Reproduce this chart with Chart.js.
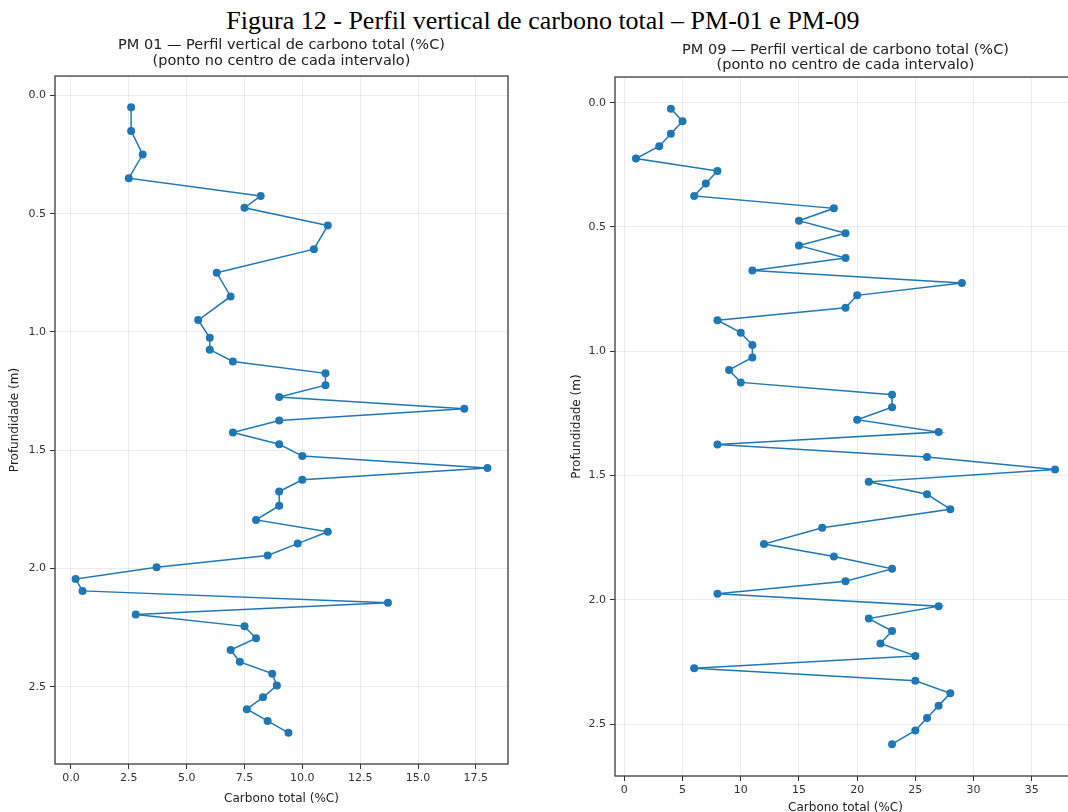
<!DOCTYPE html>
<html lang="pt-BR">
<head>
<meta charset="utf-8">
<script src="https://cdn.jsdelivr.net/npm/chart.js@4.4.1/dist/chart.umd.min.js"></script>
<style>
  html, body { margin: 0; padding: 0; background: #fff; overflow: hidden; }
  body { width: 1068px; height: 812px; position: relative; }
  #figTitle {
    position: absolute; left: 9px; top: 8px; width: 1068px;
    text-align: center; color: #000;
    font-family: "Liberation Serif", "Times New Roman", serif;
    font-size: 26px; line-height: 26px;
  }
  .box { position: absolute; }
  #box01 { left: 0; top: 0; width: 512px; height: 812px; }
  #box09 { left: 560px; top: 0; width: 520px; height: 830px; }
</style>
</head>
<body>
<div id="figTitle">Figura 12 - Perfil vertical de carbono total – PM-01 e PM-09</div>
<div class="box" id="box01"><canvas id="pm01"></canvas></div>
<div class="box" id="box09"><canvas id="pm09"></canvas></div>
<script>
// PM-01: profundidade (m, centro do intervalo) e carbono total (%C)
const prof01 = [0.05, 0.15, 0.25, 0.35, 0.425, 0.475, 0.55, 0.65, 0.75, 0.85,
  0.95, 1.025, 1.075, 1.125, 1.175, 1.225, 1.275, 1.325, 1.375, 1.425,
  1.475, 1.525, 1.575, 1.625, 1.675, 1.735, 1.795, 1.845, 1.895, 1.945,
  1.995, 2.045, 2.095, 2.145, 2.195, 2.245, 2.295, 2.345, 2.395, 2.445,
  2.495, 2.545, 2.595, 2.645, 2.695];
const carbono01 = [2.6, 2.6, 3.1, 2.5, 8.2, 7.5, 11.1, 10.5, 6.3, 6.9,
  5.5, 6.0, 6.0, 7.0, 11.0, 11.0, 9.0, 17.0, 9.0, 7.0,
  9.0, 10.0, 18.0, 10.0, 9.0, 9.0, 8.0, 11.1, 9.8, 8.5,
  3.7, 0.2, 0.5, 13.7, 2.8, 7.5, 8.0, 6.9, 7.3, 8.7,
  8.9, 8.3, 7.6, 8.5, 9.4];

// PM-09
const prof09 = [0.025, 0.075, 0.125, 0.175, 0.225, 0.275, 0.325, 0.375, 0.425, 0.475,
  0.525, 0.575, 0.625, 0.675, 0.725, 0.775, 0.825, 0.875, 0.925, 0.975,
  1.025, 1.075, 1.125, 1.175, 1.225, 1.275, 1.325, 1.375, 1.425, 1.475,
  1.525, 1.575, 1.635, 1.71, 1.775, 1.825, 1.875, 1.925, 1.975, 2.025,
  2.075, 2.125, 2.175, 2.225, 2.275, 2.325, 2.375, 2.425, 2.475, 2.525,
  2.58];
const carbono09 = [4, 5, 4, 3, 1, 8, 7, 6, 18, 15,
  19, 15, 19, 11, 29, 20, 19, 8, 10, 11,
  11, 9, 10, 23, 23, 20, 27, 8, 26, 37,
  21, 26, 28, 17, 12, 18, 23, 19, 8, 27,
  21, 23, 22, 25, 6, 25, 28, 27, 26, 25,
  23];

const ticksProf = [0, 0.5, 1.0, 1.5, 2.0, 2.5];
const ticksC01 = [0, 2.5, 5, 7.5, 10, 12.5, 15, 17.5];
const ticksC09 = [0, 5, 10, 15, 20, 25, 30, 35];

const azul = "#1f77b4";
const fonte = "'DejaVu Sans', sans-serif";

// contorno dos quatro lados da área do gráfico (estilo matplotlib)
const moldura = {
  id: "moldura",
  afterDraw(chart) {
    const { ctx, chartArea: a } = chart;
    ctx.save();
    ctx.strokeStyle = "#3a3a3a";
    ctx.lineWidth = 1.3;
    ctx.strokeRect(a.left, a.top, a.right - a.left, a.bottom - a.top);
    ctx.restore();
  },
};

function perfil(id, titulo, prof, carbono, ticksX, casas, lim, lay) {
  new Chart(document.getElementById(id), {
    type: "scatter",
    data: {
      datasets: [
        {
          data: prof.map((p, i) => ({ x: carbono[i], y: p })),
          showLine: true,
          borderColor: azul,
          backgroundColor: azul,
          borderWidth: 1.5,
          pointRadius: 4,
          pointBorderWidth: 0,
        },
      ],
    },
    options: {
      responsive: true,
      maintainAspectRatio: false,
      animation: false,
      layout: { padding: { left: 0, right: lay.pr, top: 0, bottom: 0 } },
      plugins: {
        legend: { display: false },
        tooltip: { enabled: false },
        title: {
          display: true,
          text: titulo,
          fullSize: false,
          color: "#222",
          font: { family: fonte, size: 14.5, weight: "normal", lineHeight: 1.07 },
          padding: { top: lay.tt, bottom: lay.tb },
        },
      },
      scales: {
        x: {
          type: "linear",
          min: lim.xmin,
          max: lim.xmax,
          afterBuildTicks: (s) => { s.ticks = ticksX.map((v) => ({ value: v })); },
          afterFit: (s) => { s.height = lay.xh; },
          ticks: {
            color: "#333",
            padding: 3,
            maxRotation: 0,
            font: { family: fonte, size: 11 },
            callback: (v) => v.toFixed(casas),
          },
          grid: { color: "rgba(0,0,0,0.08)", tickColor: "#333", tickLength: 5 },
          border: { display: false },
          title: {
            display: true,
            text: "Carbono total (%C)",
            color: "#222",
            font: { family: fonte, size: 12 },
            padding: { top: 0, bottom: lay.xt },
          },
        },
        y: {
          type: "linear",
          reverse: true,
          min: lim.ymin,
          max: lim.ymax,
          afterBuildTicks: (s) => { s.ticks = ticksProf.map((v) => ({ value: v })); },
          afterFit: (s) => { s.width = lay.yw; },
          ticks: {
            color: "#333",
            padding: 4,
            font: { family: fonte, size: 11 },
            callback: (v) => v.toFixed(1),
          },
          grid: { color: "rgba(0,0,0,0.08)", tickColor: "#333", tickLength: 5 },
          border: { display: false },
          title: {
            display: true,
            text: "Profundidade (m)",
            color: "#222",
            font: { family: fonte, size: 12 },
            padding: { top: lay.yt, bottom: 0 },
          },
        },
      },
    },
    plugins: [moldura],
  });
}

perfil(
  "pm01",
  ["PM 01 — Perfil vertical de carbono total (%C)", "(ponto no centro de cada intervalo)"],
  prof01, carbono01, ticksC01, 1,
  { xmin: -0.69, xmax: 18.89, ymin: -0.082, ymax: 2.827 },
  { pr: 2, tt: 37.75, tb: 7.25, xh: 48, xt: 6.3, yw: 55, yt: 7.8 }
);

perfil(
  "pm09",
  ["PM 09 — Perfil vertical de carbono total (%C)", "(ponto no centro de cada intervalo)"],
  prof09, carbono09, ticksC09, 0,
  { xmin: -0.8, xmax: 38.8, ymin: -0.103, ymax: 2.708 },
  { pr: 1, tt: 42.25, tb: 3.75, xh: 54, xt: 14.8, yw: 55, yt: 9.8 }
);
</script>
</body>
</html>
